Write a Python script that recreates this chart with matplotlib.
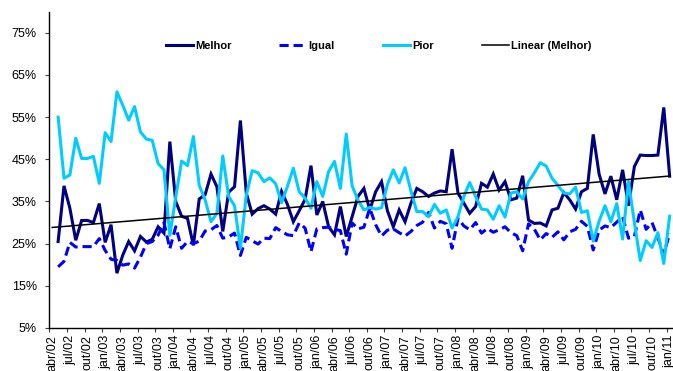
import numpy as np
import matplotlib
matplotlib.use("Agg")
import matplotlib.pyplot as plt

plt.rcParams['font.family'] = ['Liberation Sans', 'DejaVu Sans']

months = ["jan", "fev", "mar", "abr", "mai", "jun", "jul", "ago", "set", "out", "nov", "dez"]
# category axis: abr/02 .. jan/11 (106 months); data starts at mai/02
categories = []
for k in range(106):
    m = (3 + k) % 12
    y = 2 + (3 + k) // 12
    categories.append(f"{months[m]}/{y:02d}")
tick_labels = categories[::3]

melhor = [25.5, 38.7, 33.4, 25.8, 30.5, 30.5, 30.0, 34.5, 25.3, 29.5,
          18.0, 22.3, 25.5, 23.3, 26.7, 25.4, 26.0, 29.0, 27.5, 49.2,
          35.0, 31.5, 31.0, 24.6, 35.6, 36.6, 41.5, 38.5, 27.9, 37.2,
          38.5, 54.2, 37.0, 32.0, 33.3, 34.0, 33.2, 32.0, 37.4, 34.3,
          30.2, 32.8, 35.5, 43.5, 31.8, 35.0, 29.0, 27.1, 33.8, 26.7,
          31.4, 36.2, 38.1, 33.0, 37.3, 39.7, 32.8, 29.0, 33.0, 30.2,
          34.6, 38.1, 37.3, 36.2, 37.0, 37.5, 37.3, 47.4, 37.0, 34.6,
          32.2, 33.8, 39.3, 38.4, 41.5, 37.7, 39.7, 35.4, 35.8, 41.1,
          30.6, 29.8, 29.9, 29.2, 33.0, 33.4, 37.1, 35.4, 33.2, 37.3,
          38.1, 50.9, 41.5, 36.8, 41.0, 35.4, 42.5, 34.0, 43.3, 46.0,
          45.9, 45.9, 46.0, 57.3, 41.0]

pior = [55.0, 40.5, 41.3, 50.0, 45.2, 45.2, 45.7, 39.3, 51.3, 49.2,
        61.0, 57.8, 54.3, 57.5, 51.5, 49.8, 49.5, 44.0, 42.5, 27.0,
        36.0, 44.6, 43.5, 50.4, 38.8, 35.4, 30.2, 32.2, 45.8, 36.2,
        34.0, 23.9, 36.5, 42.3, 41.8, 39.7, 40.6, 39.2, 34.7, 38.6,
        42.9, 37.3, 35.8, 33.4, 39.7, 36.2, 42.1, 44.5, 38.1, 51.0,
        38.7, 35.3, 33.0, 33.6, 33.2, 33.5, 39.0, 42.5, 39.4, 43.0,
        37.5, 32.6, 32.6, 31.4, 34.3, 32.2, 33.0, 28.7, 31.4, 36.2,
        39.5, 36.2, 33.2, 33.0, 30.8, 34.0, 31.3, 37.0, 37.3, 35.6,
        39.7, 41.8, 44.2, 43.4, 40.5, 38.8, 37.0, 36.8, 38.4, 32.4,
        32.8, 25.6, 30.3, 34.0, 30.2, 34.5, 26.1, 39.7, 30.0, 21.0,
        25.7, 24.1, 27.6, 20.3, 31.5]

igual = [19.5, 20.8, 25.3, 24.2, 24.3, 24.3, 24.3, 26.2, 23.4, 21.3,
         21.0, 19.9, 20.2, 19.2, 21.8, 25.0, 25.5, 27.0, 30.0, 23.8,
         29.0, 23.9, 25.5, 25.0, 25.6, 28.0, 28.3, 29.3, 26.3, 26.6,
         27.5, 22.2, 26.5, 25.7, 24.9, 26.3, 26.2, 28.8, 27.9, 27.1,
         26.9, 29.9, 28.7, 23.1, 28.5, 28.8, 28.9, 28.4, 28.1, 22.5,
         29.9, 28.5, 28.9, 33.4, 29.5, 26.8, 28.2, 28.5, 27.6, 26.8,
         27.9, 29.3, 30.1, 32.4, 28.7, 30.3, 29.7, 23.9, 31.0, 29.2,
         28.3, 30.0, 27.5, 28.6, 27.7, 28.3, 29.0, 27.6, 26.9, 23.3,
         29.7, 28.4, 25.9, 27.4, 26.5, 27.8, 25.9, 27.8, 28.4, 30.3,
         29.1, 23.5, 28.2, 29.2, 28.8, 30.1, 31.4, 26.3, 26.7, 33.0,
         28.4, 30.0, 26.4, 22.4, 27.5]

W, H = 673, 371
fig = plt.figure(figsize=(W / 100, H / 100), dpi=100)
ax = fig.add_axes([49.3 / W, 1 - 328 / H, (672.6 - 49.3) / W, (328 - 11.7) / H])

x = np.arange(1, len(melhor) + 1)
l1, = ax.plot(x, melhor, color='#000080', lw=2.2, solid_joinstyle='miter', label='Melhor')
l2, = ax.plot(x, igual, color='#0000FF', lw=2.2, dashes=(3, 1.6), label='Igual')
l3, = ax.plot(x, pior, color='#00CCFF', lw=2.2, label='Pior')

coef = np.polyfit(x, melhor, 1)
xt = np.array([0, 105])
l4, = ax.plot(xt, np.polyval(coef, xt), color='black', lw=1.1, label='Linear (Melhor)')

ax.set_xlim(-0.5, 105.5)
ax.set_ylim(5, 80)
ax.set_yticks(np.arange(5, 76, 10))
ax.set_yticklabels([f"{v}%" for v in range(5, 76, 10)])
ax.tick_params(axis='y', direction='out', length=3, width=0.8, pad=6, labelsize=9, color='#404040')

ax.set_xticks(np.arange(-0.5, 105, 3))
ax.set_xticklabels([])
ax.set_xticks(np.arange(0, 106, 3), minor=True)
ax.set_xticklabels(tick_labels, minor=True, rotation=90, fontsize=9)
ax.tick_params(axis='x', which='major', direction='out', length=3, width=0.8, color='#404040')
ax.tick_params(axis='x', which='minor', length=0, pad=5)

for s in ['top', 'right']:
    ax.spines[s].set_visible(False)
for s in ['left', 'bottom']:
    ax.spines[s].set_color('black')
    ax.spines[s].set_linewidth(1.0)

leg = fig.legend(handles=[l1, l2, l3, l4], loc='center', bbox_to_anchor=(378.5 / W, 1 - 46 / H),
                 ncol=4, frameon=False, prop={'weight': 'bold', 'size': 8},
                 handlelength=2.45, handletextpad=0.2, columnspacing=4.3)

fig.savefig('out.png', dpi=100)
